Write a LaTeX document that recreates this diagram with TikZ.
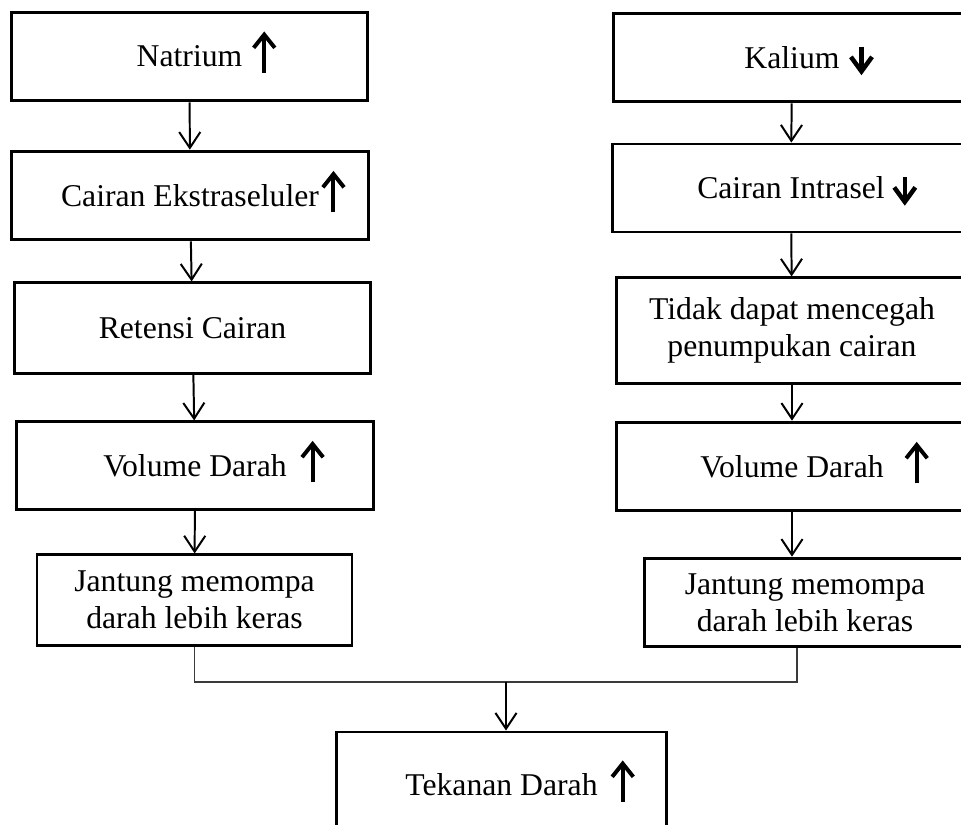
\documentclass[tikz,border=0pt]{standalone}
\usepackage{fontspec}
\setmainfont{Liberation Serif}
\usepackage{xcolor}
\usetikzlibrary{arrows.meta}
\definecolor{ink}     {HTML}{000000}
\definecolor{inkgray} {HTML}{3A3A3A}
% up / down marks written after a label (gap = text end to arrow axis)
\newcommand{\naik}[1][8pt]{\rlap{\hspace{#1}\tikz[baseline=0pt,overlay]
  \draw[ink,line width=1.5pt,-{Straight Barb[length=5pt,width=8pt]}] (0,-2.3pt) -- (0,13.4pt);}}
\newcommand{\turun}[1][8pt]{\rlap{\hspace{#1}\tikz[baseline=0pt,overlay]
  \draw[ink,line width=1.7pt,-{Straight Barb[length=5.5pt,width=8pt]}] (0,8.2pt) -- (0,-2.6pt);}}
\tikzset{
  box/.style    ={draw=ink, line width=1.1pt, text=ink,
                  minimum width=4.74cm, minimum height=1.18cm,
                  align=center, inner sep=2pt,
                  font=\fontsize{12}{14}\selectfont},
  arr/.style    ={-{Straight Barb[length=6pt,width=8pt]}, line width=0.75pt, draw=ink},
  gabung/.style ={line width=0.4pt, draw=inkgray},
}

\begin{document}
\begin{tikzpicture}[x=0.0133cm,y=-0.0133cm]
  \useasboundingbox (0,0) rectangle (961,825);
  \clip (0,0) rectangle (961,825);
  % natrium side
  \node[box] (nat) at (189.5,56.5) {Natrium\naik[8.3pt]};
  \node[box] (eks) at (190,195.5) {Cairan Ekstraseluler\naik[5.5pt]};
  \node[box,minimum height=1.20cm] (ret) at (192.5,328) {Retensi Cairan};
  \node[box,minimum height=1.16cm] (vol) at (195,465.5) {Volume Darah\naik[9.8pt]};
  \node[box,minimum width=4.19cm,minimum height=1.20cm] (jan) at (194.5,600)
    {Jantung memompa\\darah lebih keras};
  \draw[arr] (nat) -- (eks);
  \draw[arr] (eks) -- (ret);
  \draw[arr] (ret) -- (vol);
  \draw[arr] (vol) -- (jan);
  % kalium side
  \node[box] (kal) at (792,57.5) {Kalium\turun[8.3pt]};
  \node[box,minimum height=1.17cm] (intra) at (791,188) {Cairan Intrasel\turun[7.6pt]};
  \node[box,minimum width=4.66cm,minimum height=1.40cm] (tdk) at (792,330.5)
    {Tidak dapat mencegah\\penumpukan cairan};
  \node[box,minimum width=4.66cm] (volr) at (792,466.5) {Volume Darah\naik[12.5pt]};
  \node[box,minimum width=4.26cm] (janr) at (805,602.5)
    {Jantung memompa\\darah lebih keras};
  \draw[arr] (kal) -- (intra);
  \draw[arr] (intra) -- (tdk);
  \draw[arr] (tdk) -- (volr);
  \draw[arr] (volr.south) -- (volr.south |- janr.north);
  % both into blood pressure
  \coordinate (kr) at (797,682);
  \coordinate (km) at (506,682);
  \node[box,minimum width=4.40cm,minimum height=1.41cm] (tek) at (501.5,785)
    {Tekanan Darah\naik[9.5pt]};
  \draw[gabung] (jan.south) |- (kr) -- (kr |- janr.south);
  \draw[arr] (km) -- (km |- tek.north);
\end{tikzpicture}
\end{document}
